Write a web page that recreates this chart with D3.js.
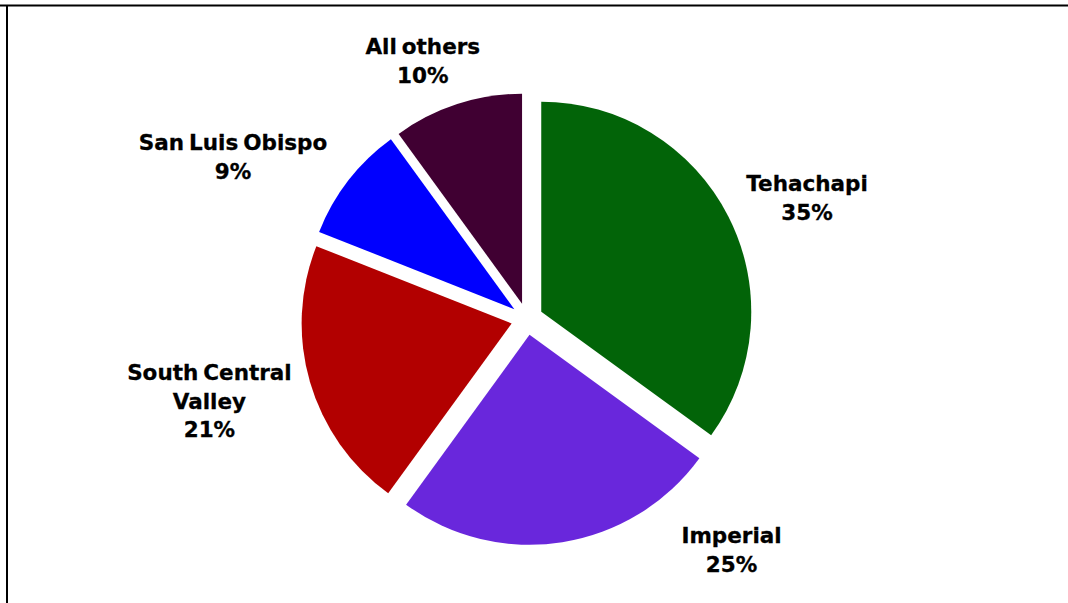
<!DOCTYPE html>
<html>
<head>
<meta charset="utf-8">
<script src="https://cdn.jsdelivr.net/npm/d3@7"></script>
<style>
  html, body { margin: 0; padding: 0; background: #fff; }
  svg { display: block; }
  .lbl { font-family: "DejaVu Sans", Verdana, sans-serif; font-weight: bold; font-size: 21.5px; fill: #000; stroke: #000; stroke-width: 0.3px; word-spacing: -2.5px; }
</style>
</head>
<body>
<svg id="chart" width="1068" height="603"></svg>
<script>
// Wind resource areas and their share of capacity (percent)
const regions = ["Tehachapi", "Imperial", "South Central Valley", "San Luis Obispo", "All others"];
const shares = [35, 25, 21, 9, 10];
const sliceColors = ["#026408", "#6927dc", "#b20000", "#0000ff", "#400032"];
// Label text broken into lines
const labelLines = [["Tehachapi"], ["Imperial"], ["South Central", "Valley"], ["San Luis Obispo"], ["All others"]];

// Layout
const W = 1068, H = 603;
const cx = 527, cy = 319;
const radius = 210;
const explode = 16;
const lineH = 28.5;
// Label block centres in polar form around the pie centre: [angle in degrees clockwise from top, distance]
const labelPolar = [[66.7, 306], [138.3, 309], [255.5, 327], [299, 335], [338.2, 278]];

const svg = d3.select("#chart");

// Frame lines
svg.append("line").attr("x1", 0).attr("x2", W).attr("y1", 5.5).attr("y2", 5.5)
  .attr("stroke", "#000").attr("stroke-width", 2);
svg.append("line").attr("x1", 7).attr("x2", 7).attr("y1", 5).attr("y2", H)
  .attr("stroke", "#000").attr("stroke-width", 2);

const data = regions.map((r, i) => ({ region: r, share: shares[i], color: sliceColors[i], lines: labelLines[i].concat([shares[i] + "%"]), lp: labelPolar[i] }));

const pie = d3.pie().sort(null).value(d => d.share);
const arc = d3.arc().innerRadius(0).outerRadius(radius);

const g = svg.append("g").attr("transform", `translate(${cx},${cy})`);

const arcs = pie(data);

g.selectAll("path.slice")
  .data(arcs)
  .join("path")
  .attr("class", "slice")
  .attr("d", arc)
  .attr("fill", d => d.data.color)
  .attr("transform", d => {
    const mid = (d.startAngle + d.endAngle) / 2;
    return `translate(${explode * Math.sin(mid)},${-explode * Math.cos(mid)})`;
  });

// Data labels
const lbl = g.selectAll("text.lbl")
  .data(arcs)
  .join("text")
  .attr("class", "lbl")
  .attr("text-anchor", "middle")
  .attr("transform", d => {
    const a = d.data.lp[0] * Math.PI / 180, r = d.data.lp[1];
    return `translate(${r * Math.sin(a) - 1},${-r * Math.cos(a)})`;
  });

lbl.each(function(d) {
  const n = d.data.lines.length;
  const t = d3.select(this);
  d.data.lines.forEach((line, i) => {
    t.append("tspan")
      .attr("x", 0)
      .attr("y", (i - (n - 1) / 2) * lineH)
      .attr("dy", "0.36em")
      .text(line);
  });
});
</script>
</body>
</html>
